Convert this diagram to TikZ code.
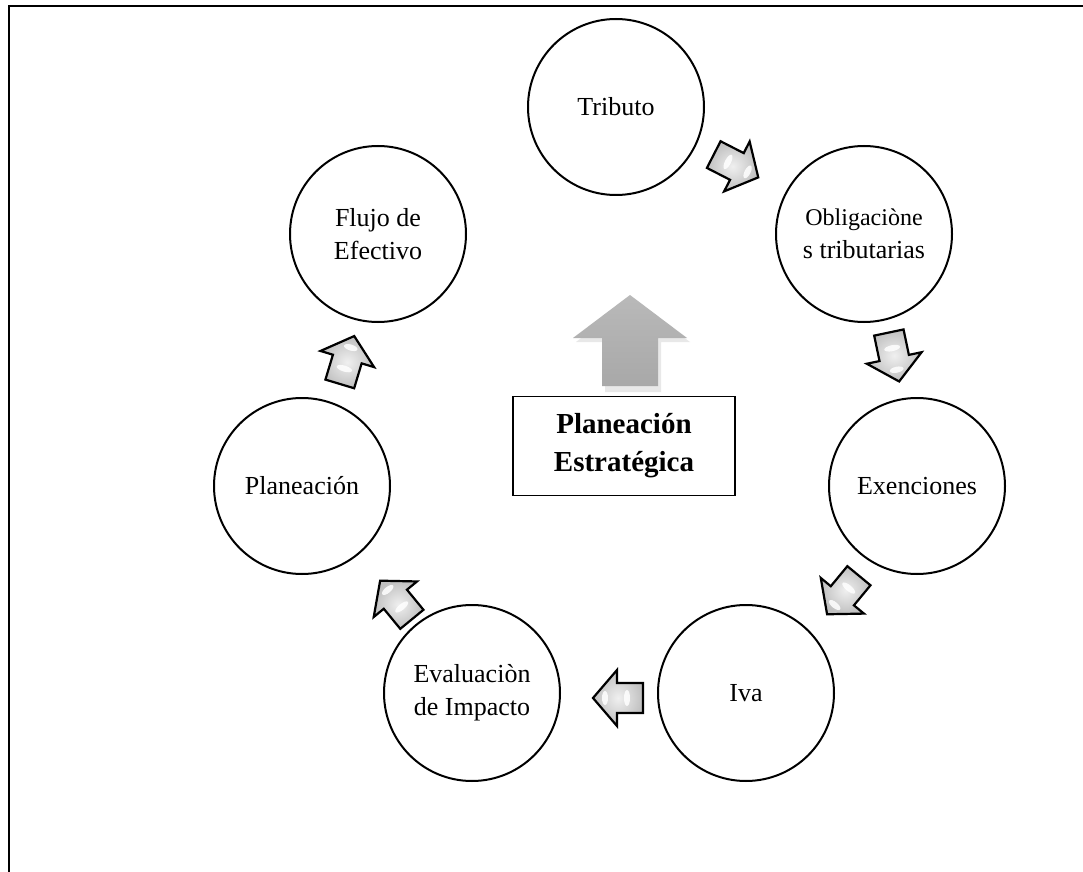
\documentclass[tikz,border=0pt]{standalone}
\usepackage{fontspec}
\setmainfont{Liberation Serif}
\usetikzlibrary{calc}
\tikzset{
  circ/.style={circle, draw, line width=1pt, minimum size=88pt, inner sep=0pt, align=center,
    font=\fontsize{13}{16.5}\selectfont},
  blockarrow/.pic={
    \shadedraw[line width=1.1pt, line join=miter, inner color=gray!12, outer color=gray!50]
      (-25,-15) -- (1,-15) -- (1,-28) -- (25,0) -- (1,28) -- (1,15) -- (-25,15) -- cycle;
    \fill[white, opacity=0.85] (-9,0) ellipse (3 and 8);
    \fill[white, opacity=0.85] (13,0) ellipse (3 and 7);
  },
  titlebox/.style={draw, line width=0.7pt, minimum width=111pt, minimum height=49.5pt,
    align=center, font=\fontsize{14.5}{19}\selectfont\bfseries}
}
\begin{document}
\begin{tikzpicture}[x=0.5pt,y=-0.5pt]
\useasboundingbox (0,0) rectangle (1083,872);
\fill[white] (0,0) rectangle (1083,872);
\draw[line width=1pt] (9,872) -- (9,6) -- (1083,6);

\node[circ] (trib)  at (616,107) {Tributo};
\node[circ] (obl)   at (864,234) {\fontsize{12}{14}\selectfont Obligaciòne\\s tributarias};
\node[circ] (exe)   at (917,486) {Exenciones};
\node[circ] (iva)   at (746,693) {Iva};
\node[circ] (eva)   at (472,693) {Evaluaciòn\\de Impacto};
\node[circ] (plan)  at (302,486) {Planeación};
\node[circ] (flujo) at (378,234) {Flujo de\\Efectivo};

\node[titlebox] (pe) at (624,446) {Planeación\\Estratégica};

% central arrow
\fill[gray!18] (632,299) -- (690,342) -- (661,342) -- (661,392) -- (605,392) -- (605,342) -- (576,342) -- cycle;
\shade[top color=gray!55, bottom color=gray!68]
  (630,295) -- (687,338) -- (658,338) -- (658,386) -- (602,386) -- (602,338) -- (573,338) -- cycle;

% block arrows
\path let \p1=($(obl)-(trib)$), \n1={atan2(\y1,\x1)} in (736,166) pic[rotate=\n1] {blockarrow};
\path let \p1=($(exe)-(obl)$), \n1={atan2(\y1,\x1)} in (894,357) pic[rotate=\n1] {blockarrow};
\path let \p1=($(iva)-(exe)$), \n1={atan2(\y1,\x1)} in (843,595) pic[rotate=\n1] {blockarrow};
\path let \p1=($(eva)-(iva)$), \n1={atan2(\y1,\x1)} in (618,698) pic[rotate=\n1] {blockarrow};
\path let \p1=($(plan)-(eva)$), \n1={atan2(\y1,\x1)} in (396,600) pic[rotate=\n1] {blockarrow};
\path let \p1=($(flujo)-(plan)$), \n1={atan2(\y1,\x1)} in (347,360) pic[rotate=\n1] {blockarrow};
\end{tikzpicture}
\end{document}
